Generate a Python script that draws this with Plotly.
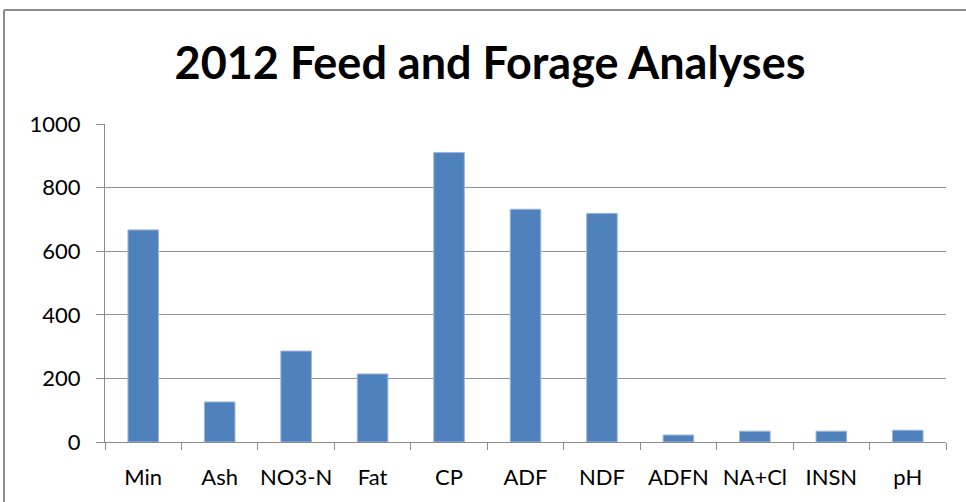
import plotly.graph_objects as go

categories = ["Min", "Ash", "NO3-N", "Fat", "CP", "ADF", "NDF", "ADFN", "NA+Cl", "INSN", "pH"]
values = [667, 126, 286, 214, 910, 732, 719, 22, 34, 34, 37]
y_ticks = [0, 200, 400, 600, 800, 1000]
title_text = "2012 Feed and Forage Analyses"

W, H = 966, 502
L, R, T, B = 105, 20, 124, 60
pw = W - L - R
ph = H - T - B

fig = go.Figure(go.Bar(
    x=categories, y=values, width=0.4,
    marker=dict(color="#4F81BD", line=dict(color="#9DB7DB", width=1)),
))

fig.update_layout(
    width=W, height=H,
    margin=dict(l=L, r=R, t=T, b=B),
    paper_bgcolor="white", plot_bgcolor="white",
    showlegend=False,
    font=dict(family="Lato, Open Sans, sans-serif", color="#000000"),
    title=dict(text="<b>" + title_text + "</b>", x=490 / W, xref="container",
               y=1 - 63 / H, yref="container", yanchor="middle", xanchor="center",
               font=dict(size=45, family="Lato, Open Sans, sans-serif", color="#000000")),
    bargap=0.6,
)

fig.update_xaxes(
    type="category", showgrid=False, showline=True, linecolor="#8C8C8C", linewidth=1,
    ticks="outside", ticklen=7, tickcolor="#8C8C8C", tickson="boundaries",
    tickfont=dict(size=22, color="#000000"), ticklabelstandoff=16,
    tickangle=0, automargin=False,
)
fig.update_yaxes(
    range=[0, 1000], tickvals=y_ticks, showgrid=True, gridcolor="#959595", gridwidth=1,
    showline=True, linecolor="#8C8C8C", linewidth=1, ticks="outside", ticklen=8,
    tickcolor="#8C8C8C", tickfont=dict(size=22, color="#000000"), ticklabelstandoff=11,
    zeroline=False, automargin=False,
)

# chart frame (left and top edges visible)
fx0 = (4 - L) / pw
fy1 = 1 + (T - 10) / ph
fig.add_shape(type="line", xref="paper", yref="paper", x0=fx0, x1=fx0, y0=-1, y1=fy1,
              line=dict(color="#8C8C8C", width=2))
fig.add_shape(type="line", xref="paper", yref="paper", x0=fx0, x1=2, y0=fy1, y1=fy1,
              line=dict(color="#8C8C8C", width=2))

fig.write_html("out.html", config={"displayModeBar": False},
               post_script="document.body.style.margin='0';")
